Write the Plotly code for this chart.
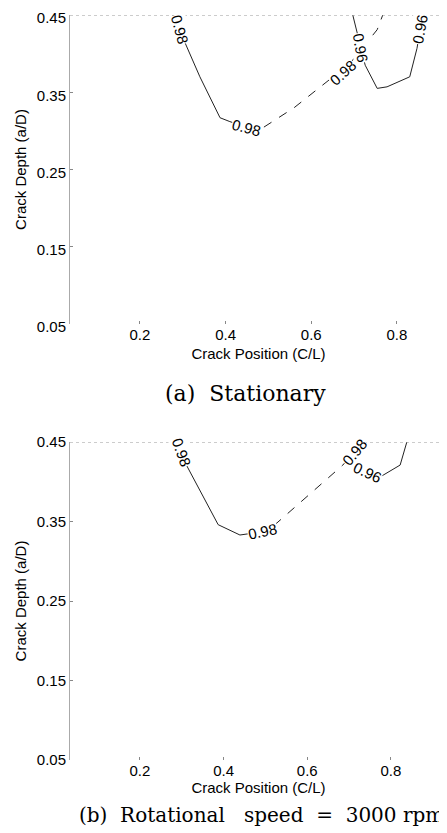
import plotly.graph_objects as go

# ---- data ----
x_ticks = [0.2, 0.4, 0.6, 0.8]
y_ticks = [0.05, 0.15, 0.25, 0.35, 0.45]

# (a) Stationary
a_c98_x = [0.277, 0.310, 0.340, 0.387, 0.410, 0.448, 0.487, 0.560, 0.651, 0.674, 0.754, 0.767]
a_c98_y = [0.450, 0.409, 0.370, 0.317, 0.312, 0.305, 0.304, 0.330, 0.370, 0.376, 0.431, 0.450]
a_c96_x = [0.697, 0.716, 0.726, 0.754, 0.777, 0.830, 0.847, 0.854, 0.860]
a_c96_y = [0.450, 0.407, 0.385, 0.355, 0.357, 0.370, 0.407, 0.431, 0.450]
a_lab_text = ["0.98", "0.98", "0.98", "0.96", "0.96"]
a_lab_x = [0.293, 0.448, 0.674, 0.716, 0.854]
a_lab_y = [0.431, 0.305, 0.376, 0.407, 0.431]
a_lab_ang = [75, 15, -42, 80, -80]

# (b) Rotational speed = 3000 rpm
b_c98_x = [0.272, 0.300, 0.308, 0.387, 0.439, 0.492, 0.527, 0.685, 0.712, 0.721]
b_c98_y = [0.450, 0.437, 0.424, 0.346, 0.333, 0.337, 0.348, 0.421, 0.437, 0.450]
b_c96_x = [0.718, 0.726, 0.745, 0.774, 0.822, 0.838]
b_c96_y = [0.450, 0.424, 0.412, 0.406, 0.421, 0.450]
b_lab_text = ["0.98", "0.98", "0.98", "0.96"]
b_lab_x = [0.300, 0.492, 0.712, 0.745]
b_lab_y = [0.437, 0.337, 0.437, 0.412]
b_lab_ang = [70, -12, -50, 25]

# page body adds an 8 px margin, so the figure is sized to fill the window
OFF = 8
W, H = 447 - OFF, 833 - OFF

def px(x):
    return (x - OFF) / W

def py(y):
    return 1 - (y - OFF) / H

fig = go.Figure()

solid = dict(color="#222", width=1)
dashed = dict(color="#222", width=1, dash="dash")

def add_contour(xs, ys, split, xa, ya):
    fig.add_trace(go.Scatter(x=xs[:split + 1], y=ys[:split + 1], mode="lines", line=solid,
                             xaxis=xa, yaxis=ya, showlegend=False))
    fig.add_trace(go.Scatter(x=xs[split:], y=ys[split:], mode="lines", line=dashed,
                             xaxis=xa, yaxis=ya, showlegend=False))

add_contour(a_c98_x, a_c98_y, 5, "x", "y")
fig.add_trace(go.Scatter(x=a_c96_x, y=a_c96_y, mode="lines", line=solid,
                         xaxis="x", yaxis="y", showlegend=False))
add_contour(b_c98_x, b_c98_y, 4, "x2", "y2")
fig.add_trace(go.Scatter(x=b_c96_x, y=b_c96_y, mode="lines", line=solid,
                         xaxis="x2", yaxis="y2", showlegend=False))

annotations = []
lab_font = dict(family="Liberation Sans, Arial", size=15, color="black")
for t, x, y, a in zip(a_lab_text, a_lab_x, a_lab_y, a_lab_ang):
    annotations.append(dict(text=t, x=x, y=y, xref="x", yref="y", showarrow=False,
                            textangle=a, font=lab_font, bgcolor="white", borderpad=0))
for t, x, y, a in zip(b_lab_text, b_lab_x, b_lab_y, b_lab_ang):
    annotations.append(dict(text=t, x=x, y=y, xref="x2", yref="y2", showarrow=False,
                            textangle=a, font=lab_font, bgcolor="white", borderpad=0))

S = "\u00a0"
cap_font = dict(family="DejaVu Serif, Liberation Serif", size=20, color="black")
annotations.append(dict(text=f"(a){S*2}Stationary", x=px(245), y=py(393), xref="paper",
                        yref="paper", showarrow=False,
                        font=dict(family=cap_font["family"], size=22, color="black"),
                        xanchor="center", yanchor="middle"))
annotations.append(dict(text=f"(b){S*2}Rotational{S*3}speed{S*2}={S*2}3000{S}rpm",
                        x=px(261), y=py(815), xref="paper", yref="paper", showarrow=False,
                        font=cap_font, xanchor="center", yanchor="middle"))

tick_font = dict(family="Liberation Sans, Arial", size=15, color="black")
title_font = dict(family="Liberation Sans, Arial", size=15, color="black")

def xax(domain, rng, anchor, standoff):
    return dict(domain=domain, range=rng, anchor=anchor, tickvals=x_ticks,
                ticktext=[f"{v:.1f}" for v in x_ticks], ticks="inside", ticklen=3,
                tickcolor="#888", showline=False, showgrid=False, zeroline=False,
                tickfont=tick_font, automargin=False, ticklabeloverflow="allow",
                title=dict(text="Crack Position (C/L)", font=title_font, standoff=standoff))

def yax(domain, anchor, shift):
    return dict(domain=domain, range=[0.05, 0.45], anchor=anchor, tickvals=y_ticks,
                ticktext=[f"{v:.2f}" for v in y_ticks], ticks="inside", ticklen=3,
                tickcolor="#888", showline=True, linecolor="#aaa", linewidth=1,
                showgrid=False, zeroline=False, tickfont=tick_font, automargin=False,
                ticklabeloverflow="allow", ticklabelshift=shift,
                title=dict(text="Crack Depth (a/D)", font=title_font, standoff=6))

shapes = [
    dict(type="line", xref="x domain", yref="y", x0=0, x1=1, y0=0.45, y1=0.45,
         line=dict(color="#999", width=1, dash="dot")),
    dict(type="line", xref="x2 domain", yref="y2", x0=0, x1=1, y0=0.45, y1=0.45,
         line=dict(color="#999", width=1, dash="dot")),
]

fig.update_layout(
    width=W, height=H,
    margin=dict(l=0, r=0, t=0, b=0),
    paper_bgcolor="white", plot_bgcolor="white",
    xaxis=xax([px(70), 1.0], [0.0367, 0.917], "y", 6),
    yaxis=yax([py(324), py(15)], "x", 3),
    xaxis2=xax([px(70), 1.0], [0.0328, 0.934], "y2", 0),
    yaxis2=yax([py(760), py(442)], "x2", 0),
    annotations=annotations,
    shapes=shapes,
)

fig.write_html("out.html")
